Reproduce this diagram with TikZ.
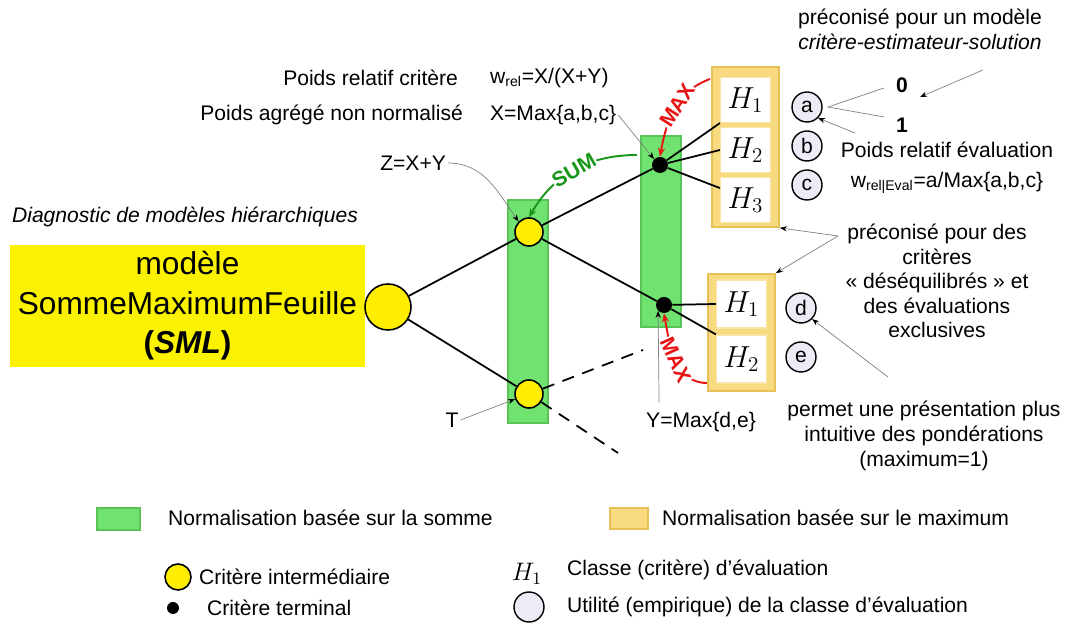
\documentclass[tikz,border=0pt]{standalone}
\usepackage{fontspec}
\setmainfont{Liberation Sans}
\usepackage{amsmath}
\usetikzlibrary{calc,arrows.meta}

\definecolor{modelyellow}{RGB}{250,242,0}
\definecolor{crityellow}{RGB}{255,238,0}
\definecolor{sumgreen}{RGB}{112,226,112}
\definecolor{sumgreenborder}{RGB}{90,196,90}
\definecolor{maxorange}{RGB}{248,218,128}
\definecolor{maxorangeborder}{RGB}{232,192,88}
\definecolor{utilgray}{RGB}{236,236,246}
\definecolor{sumtext}{RGB}{24,150,24}
\definecolor{maxred}{RGB}{232,20,20}

\begin{document}
\begin{tikzpicture}[
    txt/.style={font=\fontsize{12}{14}\selectfont, inner sep=1pt},
    sumbar/.style={fill=sumgreen, draw=sumgreenborder, line width=0.6pt, minimum width=0.8cm},
    maxbox/.style={fill=maxorange, draw=maxorangeborder, line width=1pt, minimum width=1.34cm},
    cell/.style={fill=white, draw=maxorange!70, line width=0.6pt, minimum width=1cm, minimum height=0.9cm, inner sep=0pt, font=\fontsize{18}{18}\selectfont},
    inter/.style={circle, fill=crityellow, draw=black, line width=0.9pt, minimum size=0.56cm, inner sep=0pt},
    term/.style={circle, fill=black, minimum size=0.32cm, inner sep=0pt},
    util/.style={circle, fill=utilgray, draw=black, line width=0.8pt, minimum size=0.6cm, inner sep=0pt, font=\fontsize{12}{12}\selectfont},
    edge/.style={line width=1pt},
    pointer/.style={gray, line width=0.4pt, -{Stealth[length=4pt,width=3pt,black]}},
    sumarrow/.style={sumtext, line width=1.1pt, -{Stealth[length=5pt,width=4pt]}},
    maxarrow/.style={maxred, line width=1.1pt, -{Stealth[length=5pt,width=4pt]}},
]
    \useasboundingbox (0,0) rectangle (21.38,12.5);

    % model and root
    \node[txt, anchor=west, font=\fontsize{12}{14}\selectfont\itshape] (title) at (0.2,8.16) {Diagnostic de modèles hiérarchiques};
    \node[fill=modelyellow, minimum width=7.1cm, minimum height=2.44cm, align=center, font=\fontsize{18}{22.5}\selectfont] (model) at (3.75,6.38) {modèle\\SommeMaximumFeuille\\\textbf{(\textit{SML})}};
    \node[inter, minimum size=0.92cm] (root) at (7.76,6.36) {};

    % normalisation columns
    \node[sumbar, minimum height=4.46cm] (bar1) at (10.56,6.27) {};
    \node[sumbar, minimum height=3.82cm] (bar2) at (13.22,7.87) {};
    \node[maxbox, minimum height=3.2cm] (box1) at (14.91,9.56) {};
    \node[maxbox, minimum height=2.34cm] (box2) at (14.83,5.85) {};
    \foreach \k/\y in {1/10.5, 2/9.5, 3/8.5} \node[cell] (ha\k) at (14.91,\y) {$H_\k$};
    \foreach \k/\y in {1/6.42, 2/5.32} \node[cell, minimum height=0.96cm] (hb\k) at (14.83,\y) {$H_\k$};

    % criteria
    \node[inter] (Z) at (10.58,7.86) {};
    \node[inter] (T) at (10.58,4.62) {};
    \node[term] (X) at (13.2,9.2) {};
    \node[term] (Y) at (13.28,6.4) {};
    \coordinate (tup) at (12.86,5.5); \coordinate (tdown) at (12.36,3.44);

    \draw[edge] (root) -- (Z); \draw[edge] (root) -- (T);
    \draw[edge] (Z) -- (X); \draw[edge] (Z) -- (Y);
    \draw[edge, dashed, dash pattern=on 7pt off 5pt] (T) -- (tup);
    \draw[edge, dashed, dash pattern=on 7pt off 5pt] (T) -- (tdown);
    \draw[edge] (X) -- (ha1.south west); \draw[edge] (X) -- (ha2.west); \draw[edge] (X) -- (ha3.155);
    \draw[edge] (Y) -- (hb1.west); \draw[edge] (Y) -- (hb2.north west);

    % utilities
    \foreach \p/\x/\y in {a/16.14/10.36, b/16.14/9.58, c/16.14/8.8, d/16.02/6.34, e/16.02/5.36} {
        \node[util] (u\p) at (\x,\y) {\p};
    }

    % SUM / MAX arrows
    \coordinate (sumstart) at (12.74,9.4);
    \coordinate (maxstart) at (14.2,10.92);
    \coordinate (maxstartb) at (14.14,4.84);
    \draw[sumarrow] (sumstart) to[out=180, in=60] node[sloped, pos=0.5, fill=white, inner sep=0.5pt, font=\fontsize{12}{12}\selectfont\bfseries] {SUM} (Z.north);
    \draw[maxarrow] (maxstart) to[out=200, in=80] node[sloped, pos=0.45, fill=white, inner sep=0.5pt, font=\fontsize{12}{12}\selectfont\bfseries] {MAX} (X.north);
    \draw[maxarrow] (maxstartb) to[out=180, in=-80] node[sloped, pos=0.5, fill=white, inner sep=0.5pt, font=\fontsize{12}{12}\selectfont\bfseries] {MAX} (Y.south);

    % labels on the left
    \node[txt, anchor=east] (relc) at (9.2,10.94) {Poids relatif critère};
    \node[txt, anchor=east] (aggr) at (9.3,10.2) {Poids agrégé non normalisé};
    \node[txt, anchor=west] (wrel) at (9.76,10.94) {w\textsubscript{rel}=X/(X+Y)};
    \node[txt, anchor=west] (xmax) at (9.76,10.2) {X=Max\{a,b,c\}};
    \node[txt, anchor=east] (zsum) at (8.96,9.24) {Z=X+Y};
    \node[txt] (tlab) at (9.04,4.1) {T};
    \node[txt] (ymax) at (14.02,4.06) {Y=Max\{d,e\}};
    \draw[pointer] (xmax.east) -- (X.north west);
    \draw[pointer] (zsum.east) to[out=0, in=125] (Z.north west);
    \draw[pointer] (tlab.east) -- (T.200);
    \draw[pointer] (ymax.north west) ++(0.3,0.15) coordinate (yfoot) -- (Y.south west);

    % labels on the right
    \node[txt, align=center, font=\fontsize{12}{14.2}\selectfont] (csol) at (18.4,11.91) {préconisé pour un modèle\\\textit{critère-estimateur-solution}};
    \node[txt, font=\fontsize{12}{12}\selectfont\bfseries] (zero) at (18.04,10.8) {0};
    \node[txt, font=\fontsize{12}{12}\selectfont\bfseries] (one) at (18.04,10.0) {1};
    \coordinate (afork) at (16.56,10.36);
    \draw[gray, line width=0.4pt] (zero.west) ++(-0.2,-0.06) -- (afork) -- ($(one.west)+(-0.2,0.16)$);
    \coordinate (csolfoot) at (19.66,11.1);
    \draw[pointer] (csolfoot) -- (18.4,10.56);
    \node[txt] (relev) at (18.94,9.5) {Poids relatif évaluation};
    \node[txt] (wev) at (18.94,8.84) {w\textsubscript{rel|Eval}=a/Max\{a,b,c\}};
    \draw[pointer] (17.1,9.84) -- (ua.-45);
    \node[txt, align=center, font=\fontsize{12}{13.9}\selectfont] (desq) at (18.74,6.88) {préconisé pour des\\critères\\« déséquilibrés » et\\des évaluations\\exclusives};
    \coordinate (dfork) at (16.76,7.78);
    \draw[pointer] (dfork) -- (box1.south east);
    \draw[pointer] (dfork) -- (box2.north east);
    \node[txt, align=center, font=\fontsize{12}{14.2}\selectfont] (intu) at (18.48,3.78) {permet une présentation plus\\intuitive des pondérations\\(maximum=1)};
    \draw[pointer] (17.76,4.96) -- (ud.-45);

    % legend
    \node[sumbar, minimum width=0.86cm, minimum height=0.44cm] (lgsum) at (2.37,2.12) {};
    \node[txt, anchor=west] at (3.32,2.14) {Normalisation basée sur la somme};
    \node[maxbox, line width=0.6pt, minimum width=0.76cm, minimum height=0.42cm] (lgmax) at (12.58,2.13) {};
    \node[txt, anchor=west] at (13.2,2.14) {Normalisation basée sur le maximum};
    \node[inter, minimum size=0.52cm] (lginter) at (3.56,0.96) {};
    \node[txt, anchor=west] at (3.94,0.96) {Critère intermédiaire};
    \node[term, minimum size=0.24cm] (lgterm) at (3.46,0.34) {};
    \node[txt, anchor=west] at (4.1,0.34) {Critère terminal};
    \node[font=\fontsize{14}{14}\selectfont] (lgh) at (10.54,1.02) {$H_1$};
    \node[txt, anchor=west] at (11.3,1.1) {Classe (critère) d'évaluation};
    \node[util] (lgutil) at (10.58,0.36) {};
    \node[txt, anchor=west] at (11.3,0.36) {Utilité (empirique) de la classe d'évaluation};
\end{tikzpicture}
\end{document}
